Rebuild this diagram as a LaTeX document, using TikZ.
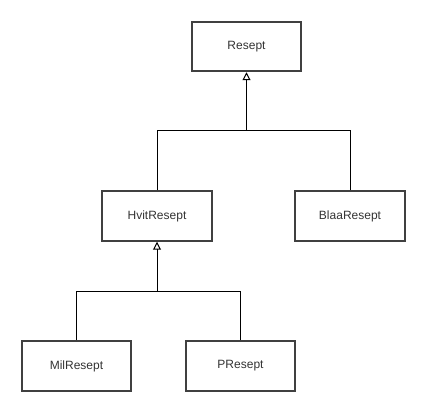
\documentclass[tikz,border=0pt]{standalone}
\usepackage{fontspec}
\setmainfont{Liberation Sans}
\usetikzlibrary{arrows.meta}
\usetikzlibrary{positioning}
\tikzset{klasse/.style = {draw = black!75, line width = 1.6pt, fill = white,
                          minimum width = 82pt, minimum height = 37pt,
                          inner sep = 0, font = \fontsize{9}{11}\selectfont, text = black!80}}
\tikzset{arv/.style = {-{Triangle[open, length = 6pt, width = 6pt]}, line width = 0.75pt}}
\tikzset{linje/.style = {line width = 0.75pt}}

\begin{document}
\begin{tikzpicture}[x = 0.75pt, y = -0.75pt]
      \useasboundingbox (0, 0) rectangle (427, 413);

      \node [klasse] (resept) at (246.5, 46.5) {Resept};
      \node [klasse] (hvit) at (157, 216) {HvitResept};
      \node [klasse] (blaa) at (350, 216) {BlaaResept};
      \node [klasse] (mil) at (76.5, 366) {MilResept};
      \node [klasse] (p) at (240.5, 366) {PResept};

      \coordinate (skinne1) at (246.5, 131);
      \coordinate (skinne2) at (157, 291);

      \draw [arv] (hvit.north) |- (skinne1) -- (resept.south);
      \draw [linje] (blaa.north) |- (skinne1);
      \draw [arv] (mil.north) |- (skinne2) -- (hvit.south);
      \draw [linje] (p.north) |- (skinne2);
    \end{tikzpicture}
\end{document}
